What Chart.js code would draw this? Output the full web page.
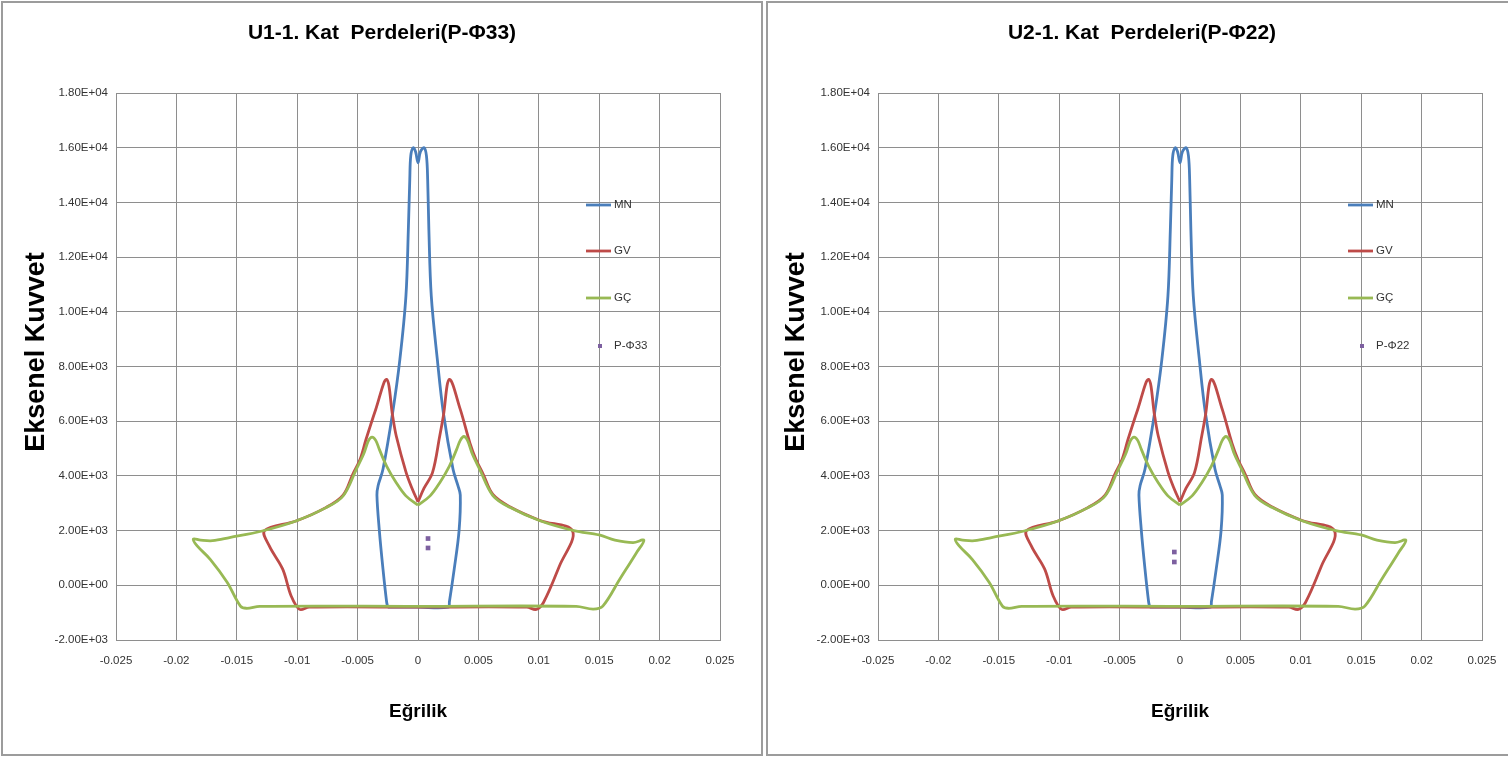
<!DOCTYPE html>
<html>
<head>
<meta charset="utf-8">
<script src="https://cdn.jsdelivr.net/npm/chart.js@4.4.0/dist/chart.umd.min.js"></script>
<style>
    html, body { margin: 0; padding: 0; background: #fff; overflow: hidden; width: 1508px; height: 757px; }
    .box { position: absolute; top: 1px; height: 755px; box-sizing: border-box; border: 2px solid #9c9c9c; background: #fff; overflow: hidden; }
    #boxL { left: 1px; width: 762px; }
    #boxR { left: 766px; width: 752px; }
    canvas { position: absolute; left: 0; top: 0; }
</style>
</head>
<body>
<div class="box" id="boxL"><canvas id="chartL" width="758" height="751"></canvas></div>
<div class="box" id="boxR"><canvas id="chartR" width="748" height="751"></canvas></div>

<script>
// eksen bölmeleri
const xTicks = [-0.025, -0.02, -0.015, -0.01, -0.005, 0, 0.005, 0.01, 0.015, 0.02, 0.025];
const yTicks = [-2000, 0, 2000, 4000, 6000, 8000, 10000, 12000, 14000, 16000, 18000];

// MN eğrisi (kapalı çevrim)
const mnX = [-0.0025, -0.0026, -0.0029, -0.0032, -0.0034, -0.0033, -0.0029, -0.0021, -0.0015, -0.0010, -0.0008, -0.00068, -0.0006, -0.0004, -0.0002, 0, 0.0002, 0.0005, 0.0007, 0.0008, 0.0009, 0.0011, 0.0016, 0.0021, 0.0029, 0.0033, 0.0035, 0.0034, 0.0030, 0.0026, 0.0025, 0, -0.0025];
const mnY = [-800, -600, 600, 2000, 3300, 3650, 4240, 6310, 8260, 10570, 13000, 14840, 15700, 16000, 15850, 15450, 15850, 16000, 15700, 14840, 13000, 10570, 8260, 6310, 4240, 3650, 3300, 2000, 600, -600, -800, -800, -800];

// GV eğrisi
const gvX = [0, -0.0005, -0.0010, -0.0018, -0.0021, -0.0026, -0.0035, -0.0043, -0.0048, -0.0054, -0.0062, -0.0076, -0.0101, -0.0127, -0.0123, -0.0112, -0.0105, -0.0098, -0.0090, 0, 0.0090, 0.0098, 0.0104, 0.0117, 0.0128, 0.0101, 0.0076, 0.0062, 0.0054, 0.0048, 0.0043, 0.0035, 0.0026, 0.0021, 0.0018, 0.0012, 0.0005, 0];
const gvY = [3050, 3550, 4150, 5460, 6190, 7530, 6430, 5340, 4600, 4060, 3300, 2850, 2350, 2000, 1430, 590, -390, -880, -800, -800, -800, -880, -620, 700, 1980, 2370, 2870, 3320, 4060, 4600, 5200, 6430, 7530, 6190, 5460, 4120, 3550, 3050];

// GÇ eğrisi
const gcX = [0, -0.0010, -0.0018, -0.0026, -0.0032, -0.0035, -0.0038, -0.0041, -0.0045, -0.0051, -0.0062, -0.0076, -0.0101, -0.0129, -0.0156, -0.0170, -0.0180, -0.0186, -0.0183, -0.0172, -0.0158, -0.0147, -0.0142, -0.0131, 0, 0.0131, 0.0145, 0.0153, 0.0167, 0.0181, 0.0187, 0.0178, 0.0163, 0.0150, 0.0129, 0.0101, 0.0076, 0.0062, 0.0051, 0.0045, 0.0041, 0.0038, 0.0035, 0.0032, 0.0026, 0.0018, 0.0010, 0];
const gcY = [2930, 3270, 3750, 4360, 4970, 5300, 5420, 5290, 4800, 4250, 3265, 2840, 2350, 1985, 1745, 1630, 1650, 1690, 1450, 950, 110, -760, -840, -770, -770, -770, -870, -760, 220, 1200, 1650, 1560, 1650, 1840, 2000, 2360, 2850, 3280, 4250, 4800, 5300, 5440, 5300, 4970, 4360, 3750, 3270, 2930];

// performans noktaları
const p33X = [0.00083, 0.00083];
const p33Y = [1710, 1365];
const p22X = [-0.00047, -0.00047];
const p22Y = [1217, 852];

const zip = (xs, ys) => xs.map((x, i) => ({ x: x, y: ys[i] }));

function sci(v) {
    const parts = v.toExponential(2).split('e');
    const e = parts[1];
    return parts[0] + 'E' + e[0] + e.slice(1).padStart(2, '0');
}

const FONT = '"Liberation Sans", Arial, sans-serif';

// başlık, eksen yazıları ve açıklama kutusu
const decor = {
    id: 'decor',
    afterDraw(chart, args, o) {
        const ctx = chart.ctx;
        const a = chart.chartArea;
        ctx.save();
        ctx.fillStyle = '#000';
        ctx.textAlign = 'center';
        ctx.textBaseline = 'middle';
        ctx.font = 'bold 21px ' + FONT;
        ctx.fillText(o.title, chart.width / 2, 30);
        ctx.font = 'bold 19px ' + FONT;
        ctx.fillText('Eğrilik', (a.left + a.right) / 2, 709);
        ctx.save();
        ctx.translate(o.yTitleX, 349);
        ctx.rotate(-Math.PI / 2);
        ctx.font = 'bold 27px ' + FONT;
        ctx.fillText('Eksenel Kuvvet', 0, 0);
        ctx.restore();

        const rows = [202, 248, 295, 343];
        ctx.font = '11.5px ' + FONT;
        ctx.textAlign = 'left';
        chart.data.datasets.forEach((ds, i) => {
            const y = rows[i];
            if (ds.showLine) {
                ctx.strokeStyle = ds.borderColor;
                ctx.lineWidth = 2.8;
                ctx.beginPath();
                ctx.moveTo(a.left + 470, y);
                ctx.lineTo(a.left + 495, y);
                ctx.stroke();
            } else {
                ctx.fillStyle = ds.backgroundColor;
                ctx.fillRect(a.left + 482, y - 2, 4, 4);
            }
            ctx.fillStyle = '#333';
            ctx.fillText(ds.label, a.left + 498, y);
        });
        ctx.restore();
    }
};

function lineSet(label, xs, ys, color, order) {
    return {
        label: label,
        data: zip(xs, ys),
        showLine: true,
        borderColor: color,
        backgroundColor: color,
        borderWidth: 2.8,
        pointRadius: 0,
        tension: 0.35,
        order: order
    };
}

function makeChart(id, opt) {
    const ctx = document.getElementById(id).getContext('2d');
    return new Chart(ctx, {
        type: 'scatter',
        data: {
            datasets: [
                lineSet('MN', mnX, mnY, '#4A7EBB', 4),
                lineSet('GV', gvX, gvY, '#BE4B48', 3),
                lineSet('GÇ', gcX, gcY, '#98B954', 2),
                {
                    label: opt.pLabel,
                    data: zip(opt.px, opt.py),
                    showLine: false,
                    pointStyle: 'rect',
                    pointRadius: 3.3,
                    borderWidth: 0,
                    backgroundColor: '#7D60A0',
                    borderColor: '#7D60A0',
                    order: 1
                }
            ]
        },
        options: {
            responsive: false,
            animation: false,
            devicePixelRatio: 1,
            layout: { padding: { top: 90, right: opt.padRight, left: 0, bottom: 0 } },
            plugins: {
                legend: { display: false },
                tooltip: { enabled: false },
                decor: { title: opt.title, yTitleX: opt.yTitleX }
            },
            scales: {
                x: {
                    type: 'linear',
                    min: -0.025,
                    max: 0.025,
                    afterBuildTicks: s => { s.ticks = xTicks.map(v => ({ value: v })); },
                    afterFit: s => { s.height = 114; },
                    grid: { color: '#8e8e8e', lineWidth: 1, drawTicks: false },
                    border: { color: '#8e8e8e' },
                    ticks: {
                        padding: 14,
                        color: '#333',
                        font: { family: FONT, size: 11.5 },
                        maxRotation: 0,
                        autoSkip: false,
                        callback: v => String(+Number(v).toFixed(3))
                    }
                },
                y: {
                    type: 'linear',
                    min: -2000,
                    max: 18000,
                    afterBuildTicks: s => { s.ticks = yTicks.map(v => ({ value: v })); },
                    afterFit: s => { s.width = opt.yWidth; },
                    grid: { color: '#8e8e8e', lineWidth: 1, drawTicks: false },
                    border: { color: '#8e8e8e' },
                    ticks: {
                        padding: 8,
                        color: '#333',
                        font: { family: FONT, size: 11.5 },
                        autoSkip: false,
                        callback: v => sci(v)
                    }
                }
            }
        },
        plugins: [decor]
    });
}

makeChart('chartL', {
    title: 'U1-1. Kat  Perdeleri(P-Φ33)',
    pLabel: 'P-Φ33', px: p33X, py: p33Y,
    yWidth: 113, padRight: 41, yTitleX: 34
});
makeChart('chartR', {
    title: 'U2-1. Kat  Perdeleri(P-Φ22)',
    pLabel: 'P-Φ22', px: p22X, py: p22Y,
    yWidth: 110, padRight: 34, yTitleX: 29
});
</script>
</body>
</html>
